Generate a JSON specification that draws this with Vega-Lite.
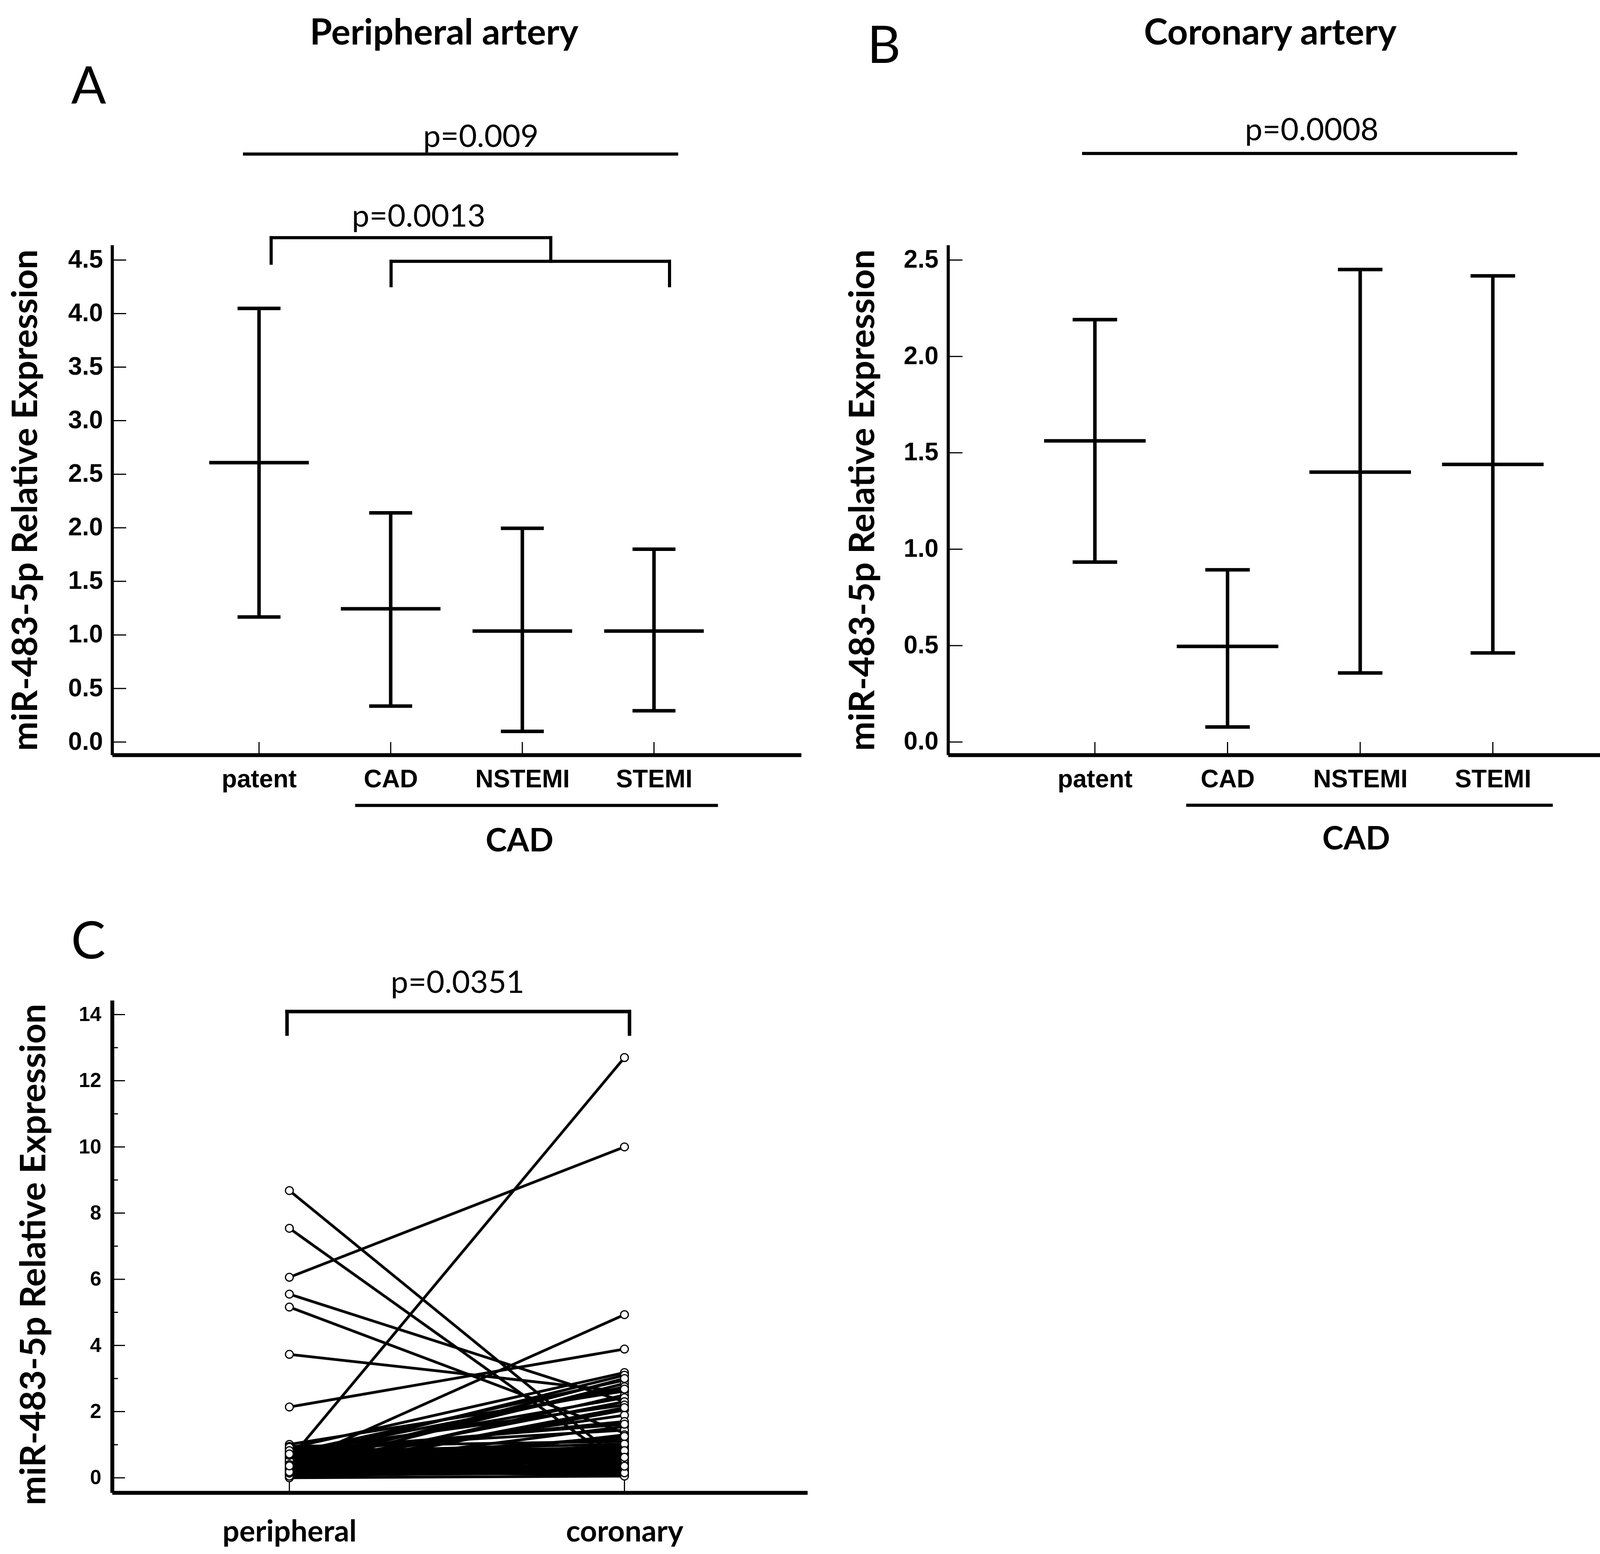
{
  "$schema": "https://vega.github.io/schema/vega-lite/v6.json",
  "padding": 0,
  "background": "white",
  "columns": 2,
  "bounds": "flush",
  "spacing": {"row": 628, "column": 360},
  "config": {
    "view": {"stroke": null},
    "axis": {"grid": false, "ticks": false, "tickSize": 0, "domainColor": "black", "labelColor": "black", "titleColor": "black", "labelOverlap": false, "labelFlush": false, "labelLimit": 2000}
  },
  "datasets": {
    "pa": [
      {"g": 1, "lo": 1.168, "mean": 2.608, "hi": 4.048},
      {"g": 2, "lo": 0.336, "mean": 1.244, "hi": 2.14},
      {"g": 3, "lo": 0.1, "mean": 1.036, "hi": 1.996},
      {"g": 4, "lo": 0.292, "mean": 1.036, "hi": 1.8}
    ],
    "pb": [
      {"g": 1, "lo": 0.933, "mean": 1.562, "hi": 2.191},
      {"g": 2, "lo": 0.078, "mean": 0.496, "hi": 0.893},
      {"g": 3, "lo": 0.358, "mean": 1.4, "hi": 2.451},
      {"g": 4, "lo": 0.462, "mean": 1.44, "hi": 2.418}
    ],
    "tA": [{"v": 0}, {"v": 0.5}, {"v": 1}, {"v": 1.5}, {"v": 2}, {"v": 2.5}, {"v": 3}, {"v": 3.5}, {"v": 4}, {"v": 4.5}],
    "tB": [{"v": 0}, {"v": 0.5}, {"v": 1}, {"v": 1.5}, {"v": 2}, {"v": 2.5}],
    "tC": [{"v": 0}, {"v": 2}, {"v": 4}, {"v": 6}, {"v": 8}, {"v": 10}, {"v": 12}, {"v": 14}],
    "minorC": [{"v": 1}, {"v": 3}, {"v": 5}, {"v": 7}, {"v": 9}, {"v": 11}, {"v": 13}],
    "sC": [{"s": 1}, {"s": 2}],
    "segA": [
      {"x": 0.89, "x2": 4.172, "y": 5.489, "y2": 5.489},
      {"x": 1.092, "x2": 3.216, "y": 4.708, "y2": 4.708},
      {"x": 1.092, "x2": 1.092, "y": 4.708, "y2": 4.47},
      {"x": 3.216, "x2": 3.216, "y": 4.708, "y2": 4.488},
      {"x": 2.003, "x2": 4.118, "y": 4.488, "y2": 4.488},
      {"x": 2.003, "x2": 2.003, "y": 4.488, "y2": 4.26},
      {"x": 4.118, "x2": 4.118, "y": 4.488, "y2": 4.26},
      {"x": 1.742, "x2": 4.474, "y": -0.591, "y2": -0.591}
    ],
    "segB": [
      {"x": 0.915, "x2": 4.172, "y": 3.053, "y2": 3.053},
      {"x": 1.7, "x2": 4.44, "y": -0.328, "y2": -0.328}
    ],
    "segC": [
      {"x": 0.993, "x2": 2.015, "y": 14.09, "y2": 14.09},
      {"x": 0.993, "x2": 0.993, "y": 14.09, "y2": 13.41},
      {"x": 2.015, "x2": 2.015, "y": 14.09, "y2": 13.41}
    ],
    "pairs": [
      {"p": 8.68, "c": 0.42}, {"p": 7.54, "c": 0.32}, {"p": 6.06, "c": 10.0}, {"p": 5.55, "c": 2.3},
      {"p": 5.16, "c": 1.35}, {"p": 3.73, "c": 2.6}, {"p": 2.14, "c": 3.89}, {"p": 0.55, "c": 12.7},
      {"p": 0.4, "c": 4.93}, {"p": 0.9, "c": 3.18}, {"p": 0.6, "c": 3.1}, {"p": 0.75, "c": 2.95},
      {"p": 0.3, "c": 2.85}, {"p": 0.5, "c": 2.75}, {"p": 1.01, "c": 2.62}, {"p": 0.2, "c": 2.5},
      {"p": 0.65, "c": 2.42}, {"p": 0.35, "c": 2.3}, {"p": 0.8, "c": 2.2}, {"p": 0.15, "c": 2.05},
      {"p": 0.45, "c": 1.89}, {"p": 0.7, "c": 1.7}, {"p": 0.25, "c": 1.55}, {"p": 0.85, "c": 1.44},
      {"p": 0.1, "c": 1.3}, {"p": 0.55, "c": 1.19}, {"p": 0.95, "c": 1.1}, {"p": 0.3, "c": 1.0},
      {"p": 0.6, "c": 0.95}, {"p": 0.05, "c": 0.9}, {"p": 0.4, "c": 0.85}, {"p": 0.2, "c": 0.8},
      {"p": 0.7, "c": 0.75}, {"p": 0.12, "c": 0.7}, {"p": 0.5, "c": 0.65}, {"p": 0.8, "c": 0.6},
      {"p": 0.35, "c": 0.55}, {"p": 0.02, "c": 0.5}, {"p": 0.6, "c": 0.45}, {"p": 0.25, "c": 0.4},
      {"p": 0.9, "c": 0.38}, {"p": 0.45, "c": 0.3}, {"p": 0.15, "c": 0.25}, {"p": 0.7, "c": 0.2},
      {"p": 0.3, "c": 0.18}, {"p": 0.08, "c": 0.15}, {"p": 0.55, "c": 0.12}, {"p": 0.38, "c": 0.1},
      {"p": 0.2, "c": 0.08}, {"p": 0.0, "c": 0.05}, {"p": 0.65, "c": 0.6}, {"p": 0.48, "c": 0.72},
      {"p": 0.85, "c": 0.88}, {"p": 0.28, "c": 0.65}, {"p": 0.75, "c": 0.42}, {"p": 0.18, "c": 0.32},
      {"p": 0.42, "c": 0.78}, {"p": 0.62, "c": 0.5}, {"p": 0.22, "c": 0.58}, {"p": 0.88, "c": 0.7},
      {"p": 0.1, "c": 0.45}, {"p": 0.58, "c": 0.28}, {"p": 0.33, "c": 0.92}, {"p": 0.78, "c": 1.02},
      {"p": 0.05, "c": 0.22}, {"p": 0.52, "c": 0.82}, {"p": 0.92, "c": 0.55}, {"p": 0.26, "c": 0.15},
      {"p": 0.68, "c": 0.35}, {"p": 0.14, "c": 0.62}, {"p": 0.4, "c": 1.25}, {"p": 0.82, "c": 1.62},
      {"p": 0.18, "c": 2.12}, {"p": 0.72, "c": 2.68}, {"p": 0.36, "c": 3.0}
    ]
  },
  "concat": [
    {
      "width": 1764,
      "height": 1305,
      "layer": [
        {
          "data": {"name": "pa"},
          "mark": {"type": "rule", "strokeWidth": 9, "color": "black"},
          "encoding": {
            "x": {"field": "g", "type": "quantitative", "scale": {"domain": [-0.116, 5.118], "nice": false, "zero": false},
              "axis": {"title": null, "values": [1, 2, 3, 4], "labelExpr": "['','patent','CAD','NSTEMI','STEMI'][datum.value]",
                "domainWidth": 10, "labelPadding": 31, "labelFont": "Liberation Sans", "labelFontWeight": "bold", "labelFontSize": 64}},
            "y": {"field": "lo", "type": "quantitative", "scale": {"domain": [-0.12, 4.64], "nice": false, "zero": false},
              "axis": {"title": "miR-483-5p Relative Expression", "values": [0, 0.5, 1, 1.5, 2, 2.5, 3, 3.5, 4, 4.5], "format": ".1f",
                "domainWidth": 8, "labelPadding": 24, "labelFont": "Liberation Sans", "labelFontWeight": "bold", "labelFontSize": 64,
                "titleFont": "Lato", "titleFontWeight": "bold", "titleFontSize": 90, "titleAngle": 270, "titleBaseline": "bottom", "titleX": -174}},
            "y2": {"field": "hi"}
          }
        },
        {
          "data": {"name": "pa"},
          "mark": {"type": "rule", "strokeWidth": 3, "color": "black"},
          "encoding": {
            "x": {"field": "g", "type": "quantitative"},
            "y": {"datum": -0.12, "type": "quantitative"},
            "y2": {"datum": 0.0}
          }
        },
        {
          "data": {"name": "tA"},
          "mark": {"type": "rule", "strokeWidth": 3, "color": "black"},
          "encoding": {
            "x": {"datum": -0.116, "type": "quantitative"},
            "x2": {"datum": -0.009},
            "y": {"field": "v", "type": "quantitative"}
          }
        },
        {
          "data": {"name": "pa"},
          "mark": {"type": "tick", "orient": "horizontal", "size": 255, "thickness": 9, "color": "black", "opacity": 1},
          "encoding": {
            "x": {"field": "g", "type": "quantitative"},
            "y": {"field": "mean", "type": "quantitative"}
          }
        },
        {
          "data": {"name": "pa"},
          "mark": {"type": "tick", "orient": "horizontal", "size": 110, "thickness": 9, "color": "black", "opacity": 1},
          "encoding": {
            "x": {"field": "g", "type": "quantitative"},
            "y": {"field": "lo", "type": "quantitative"}
          }
        },
        {
          "data": {"name": "pa"},
          "mark": {"type": "tick", "orient": "horizontal", "size": 110, "thickness": 9, "color": "black", "opacity": 1},
          "encoding": {
            "x": {"field": "g", "type": "quantitative"},
            "y": {"field": "hi", "type": "quantitative"}
          }
        },
        {
          "data": {"name": "segA"},
          "mark": {"type": "rule", "strokeWidth": 8, "color": "black", "strokeCap": "square"},
          "encoding": {
            "x": {"field": "x", "type": "quantitative"},
            "x2": {"field": "x2"},
            "y": {"field": "y", "type": "quantitative"},
            "y2": {"field": "y2"}
          }
        },
        {
          "data": {"values": [{"x": 2.406, "y": 6.51, "t": "Peripheral artery"}]},
          "mark": {"type": "text", "font": "Lato", "fontWeight": "bold", "fontSize": 92, "align": "center", "baseline": "alphabetic", "color": "black"},
          "encoding": {
            "x": {"field": "x", "type": "quantitative"},
            "y": {"field": "y", "type": "quantitative"},
            "text": {"field": "t"}
          }
        },
        {
          "data": {"values": [{"x": 2.685, "y": 5.554, "t": "p=0.009"}, {"x": 2.213, "y": 4.81, "t": "p=0.0013"}]},
          "mark": {"type": "text", "font": "Lato", "fontSize": 80, "align": "center", "baseline": "alphabetic", "color": "black"},
          "encoding": {
            "x": {"field": "x", "type": "quantitative"},
            "y": {"field": "y", "type": "quantitative"},
            "text": {"field": "t"}
          }
        },
        {
          "data": {"values": [{"x": -0.294, "y": 5.959, "t": "A"}]},
          "mark": {"type": "text", "font": "Lato", "fontSize": 132, "align": "center", "baseline": "alphabetic", "color": "black"},
          "encoding": {
            "x": {"field": "x", "type": "quantitative"},
            "y": {"field": "y", "type": "quantitative"},
            "text": {"field": "t"}
          }
        },
        {
          "data": {"values": [{"x": 2.979, "y": -1.021, "t": "CAD"}]},
          "mark": {"type": "text", "font": "Lato", "fontWeight": "bold", "fontSize": 82, "align": "center", "baseline": "alphabetic", "color": "black"},
          "encoding": {
            "x": {"field": "x", "type": "quantitative"},
            "y": {"field": "y", "type": "quantitative"},
            "text": {"field": "t"}
          }
        },
        {
          "data": {"values": [{"x": -0.9647, "y": 6.923}]},
          "mark": {"type": "point", "shape": "square", "size": 1, "filled": true, "opacity": 0},
          "encoding": {
            "x": {"field": "x", "type": "quantitative"},
            "y": {"field": "y", "type": "quantitative"}
          }
        }
      ]
    },
    {
      "width": 1775,
      "height": 1305,
      "layer": [
        {
          "data": {"name": "pb"},
          "mark": {"type": "rule", "strokeWidth": 9, "color": "black"},
          "encoding": {
            "x": {"field": "g", "type": "quantitative", "scale": {"domain": [-0.107, 5.12], "nice": false, "zero": false},
              "axis": {"title": null, "values": [1, 2, 3, 4], "labelExpr": "['','patent','CAD','NSTEMI','STEMI'][datum.value]",
                "domainWidth": 10, "labelPadding": 31, "labelFont": "Liberation Sans", "labelFontWeight": "bold", "labelFontSize": 64}},
            "y": {"field": "lo", "type": "quantitative", "scale": {"domain": [-0.067, 2.578], "nice": false, "zero": false},
              "axis": {"title": "miR-483-5p Relative Expression", "values": [0, 0.5, 1, 1.5, 2, 2.5], "format": ".1f",
                "domainWidth": 8, "labelPadding": 25, "labelFont": "Liberation Sans", "labelFontWeight": "bold", "labelFontSize": 64,
                "titleFont": "Lato", "titleFontWeight": "bold", "titleFontSize": 90, "titleAngle": 270, "titleBaseline": "bottom", "titleX": -171}},
            "y2": {"field": "hi"}
          }
        },
        {
          "data": {"name": "pb"},
          "mark": {"type": "rule", "strokeWidth": 3, "color": "black"},
          "encoding": {
            "x": {"field": "g", "type": "quantitative"},
            "y": {"datum": -0.067, "type": "quantitative"},
            "y2": {"datum": 0.0}
          }
        },
        {
          "data": {"name": "tB"},
          "mark": {"type": "rule", "strokeWidth": 3, "color": "black"},
          "encoding": {
            "x": {"datum": -0.107, "type": "quantitative"},
            "x2": {"datum": 0.002},
            "y": {"field": "v", "type": "quantitative"}
          }
        },
        {
          "data": {"name": "pb"},
          "mark": {"type": "tick", "orient": "horizontal", "size": 260, "thickness": 9, "color": "black", "opacity": 1},
          "encoding": {
            "x": {"field": "g", "type": "quantitative"},
            "y": {"field": "mean", "type": "quantitative"}
          }
        },
        {
          "data": {"name": "pb"},
          "mark": {"type": "tick", "orient": "horizontal", "size": 114, "thickness": 9, "color": "black", "opacity": 1},
          "encoding": {
            "x": {"field": "g", "type": "quantitative"},
            "y": {"field": "lo", "type": "quantitative"}
          }
        },
        {
          "data": {"name": "pb"},
          "mark": {"type": "tick", "orient": "horizontal", "size": 114, "thickness": 9, "color": "black", "opacity": 1},
          "encoding": {
            "x": {"field": "g", "type": "quantitative"},
            "y": {"field": "hi", "type": "quantitative"}
          }
        },
        {
          "data": {"name": "segB"},
          "mark": {"type": "rule", "strokeWidth": 8, "color": "black", "strokeCap": "square"},
          "encoding": {
            "x": {"field": "x", "type": "quantitative"},
            "x2": {"field": "x2"},
            "y": {"field": "y", "type": "quantitative"},
            "y2": {"field": "y2"}
          }
        },
        {
          "data": {"values": [{"x": 2.322, "y": 3.618, "t": "Coronary artery"}]},
          "mark": {"type": "text", "font": "Lato", "fontWeight": "bold", "fontSize": 92, "align": "center", "baseline": "alphabetic", "color": "black"},
          "encoding": {
            "x": {"field": "x", "type": "quantitative"},
            "y": {"field": "y", "type": "quantitative"},
            "text": {"field": "t"}
          }
        },
        {
          "data": {"values": [{"x": 2.635, "y": 3.121, "t": "p=0.0008"}]},
          "mark": {"type": "text", "font": "Lato", "fontSize": 80, "align": "center", "baseline": "alphabetic", "color": "black"},
          "encoding": {
            "x": {"field": "x", "type": "quantitative"},
            "y": {"field": "y", "type": "quantitative"},
            "text": {"field": "t"}
          }
        },
        {
          "data": {"values": [{"x": -0.59, "y": 3.522, "t": "B"}]},
          "mark": {"type": "text", "font": "Lato", "fontSize": 132, "align": "center", "baseline": "alphabetic", "color": "black"},
          "encoding": {
            "x": {"field": "x", "type": "quantitative"},
            "y": {"field": "y", "type": "quantitative"},
            "text": {"field": "t"}
          }
        },
        {
          "data": {"values": [{"x": 2.97, "y": -0.557, "t": "CAD"}]},
          "mark": {"type": "text", "font": "Lato", "fontWeight": "bold", "fontSize": 82, "align": "center", "baseline": "alphabetic", "color": "black"},
          "encoding": {
            "x": {"field": "x", "type": "quantitative"},
            "y": {"field": "y", "type": "quantitative"},
            "text": {"field": "t"}
          }
        },
        {
          "data": {"values": [{"x": 5.232, "y": -4.214}]},
          "mark": {"type": "point", "shape": "square", "size": 1, "filled": true, "opacity": 0},
          "encoding": {
            "x": {"field": "x", "type": "quantitative"},
            "y": {"field": "y", "type": "quantitative"}
          }
        }
      ]
    },
    {
      "width": 1780,
      "height": 1260,
      "layer": [
        {
          "data": {"name": "pairs"},
          "mark": {"type": "rule", "strokeWidth": 7, "color": "black"},
          "encoding": {
            "x": {"datum": 1, "type": "quantitative", "scale": {"domain": [0.471, 2.546], "nice": false, "zero": false},
              "axis": {"title": null, "values": [1, 2], "labelExpr": "datum.value == 1 ? 'peripheral' : 'coronary'",
                "domainWidth": 10, "labelPadding": 64, "labelFont": "Lato", "labelFontWeight": "bold", "labelFontSize": 76}},
            "x2": {"datum": 2},
            "y": {"field": "p", "type": "quantitative", "scale": {"domain": [-0.449, 14.43], "nice": false, "zero": false},
              "axis": {"title": "miR-483-5p Relative Expression", "values": [0, 2, 4, 6, 8, 10, 12, 14], "format": "d",
                "domainWidth": 10, "labelPadding": 28, "labelFont": "Liberation Sans", "labelFontWeight": "bold", "labelFontSize": 52,
                "titleFont": "Lato", "titleFontWeight": "bold", "titleFontSize": 90, "titleAngle": 270, "titleBaseline": "bottom", "titleX": -153, "titleY": 650}},
            "y2": {"field": "c"}
          }
        },
        {
          "data": {"name": "sC"},
          "mark": {"type": "rule", "strokeWidth": 3, "color": "black"},
          "encoding": {
            "x": {"field": "s", "type": "quantitative"},
            "y": {"datum": -0.449, "type": "quantitative"},
            "y2": {"datum": 0.0}
          }
        },
        {
          "data": {"name": "tC"},
          "mark": {"type": "rule", "strokeWidth": 3, "color": "black"},
          "encoding": {
            "x": {"datum": 0.471, "type": "quantitative"},
            "x2": {"datum": 0.5095},
            "y": {"field": "v", "type": "quantitative"}
          }
        },
        {
          "data": {"name": "minorC"},
          "mark": {"type": "rule", "strokeWidth": 3, "color": "black"},
          "encoding": {
            "x": {"datum": 0.471, "type": "quantitative"},
            "x2": {"datum": 0.4885},
            "y": {"field": "v", "type": "quantitative"}
          }
        },
        {
          "data": {"name": "pairs"},
          "mark": {"type": "point", "shape": "circle", "size": 400, "filled": false, "fill": "white", "fillOpacity": 1, "stroke": "black", "strokeWidth": 3, "opacity": 1},
          "encoding": {
            "x": {"datum": 1, "type": "quantitative"},
            "y": {"field": "p", "type": "quantitative"}
          }
        },
        {
          "data": {"name": "pairs"},
          "mark": {"type": "point", "shape": "circle", "size": 400, "filled": false, "fill": "white", "fillOpacity": 1, "stroke": "black", "strokeWidth": 3, "opacity": 1},
          "encoding": {
            "x": {"datum": 2, "type": "quantitative"},
            "y": {"field": "c", "type": "quantitative"}
          }
        },
        {
          "data": {"name": "segC"},
          "mark": {"type": "rule", "strokeWidth": 9, "color": "black", "strokeCap": "square"},
          "encoding": {
            "x": {"field": "x", "type": "quantitative"},
            "x2": {"field": "x2"},
            "y": {"field": "y", "type": "quantitative"},
            "y2": {"field": "y2"}
          }
        },
        {
          "data": {"values": [{"x": 1.502, "y": 14.65, "t": "p=0.0351"}]},
          "mark": {"type": "text", "font": "Lato", "fontSize": 80, "align": "center", "baseline": "alphabetic", "color": "black"},
          "encoding": {
            "x": {"field": "x", "type": "quantitative"},
            "y": {"field": "y", "type": "quantitative"},
            "text": {"field": "t"}
          }
        },
        {
          "data": {"values": [{"x": 0.4, "y": 15.69, "t": "C"}]},
          "mark": {"type": "text", "font": "Lato", "fontSize": 132, "align": "center", "baseline": "alphabetic", "color": "black"},
          "encoding": {
            "x": {"field": "x", "type": "quantitative"},
            "y": {"field": "y", "type": "quantitative"},
            "text": {"field": "t"}
          }
        }
      ]
    }
  ]
}
